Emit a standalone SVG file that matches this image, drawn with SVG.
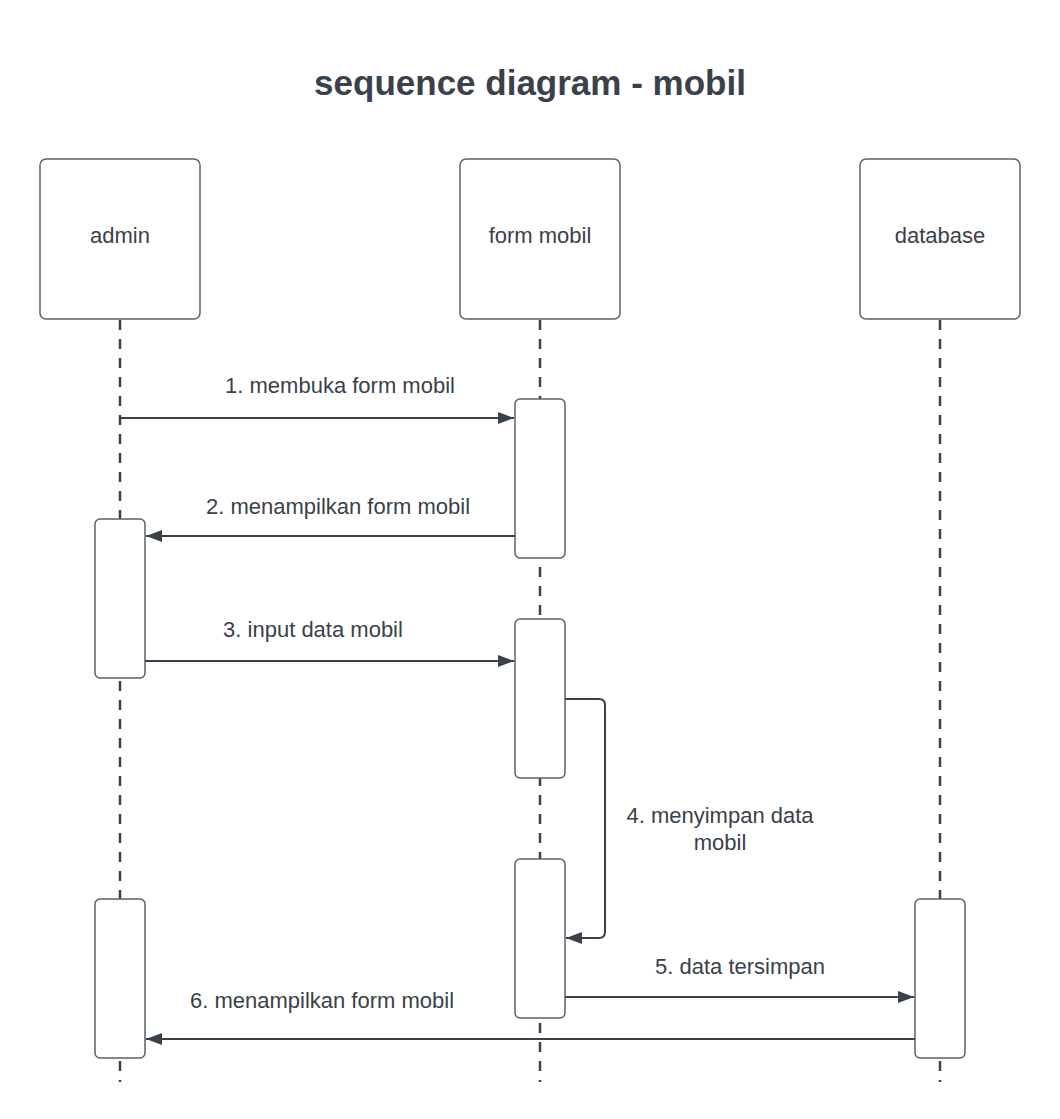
<svg xmlns="http://www.w3.org/2000/svg" width="1060" height="1119" viewBox="0 0 1060 1119">
<style>
.bg{fill:#ffffff}
.actor{fill:#ffffff;stroke:#5a626c;stroke-width:1.5}
.act{fill:#ffffff;stroke:#5a626c;stroke-width:1.5}
.life{stroke:#3a414a;stroke-width:2.5;stroke-dasharray:10 9;fill:none}
.msg{stroke:#3a414a;stroke-width:2;fill:none}
.t{font-family:"Liberation Sans",Arial,sans-serif;font-size:22px;fill:#3a414a;text-anchor:middle}
.title{font-family:"Liberation Sans",Arial,sans-serif;font-size:35px;font-weight:bold;fill:#3a414a;text-anchor:middle}
</style>
<defs>
<marker id="ah" viewBox="0 0 16 12" refX="16" refY="6" markerWidth="16" markerHeight="12" markerUnits="userSpaceOnUse" orient="auto">
<path d="M0,0 L16,6 L0,12 Z" fill="#3a414a"/>
</marker>
</defs>
<rect class="bg" x="0" y="0" width="1060" height="1119"/>
<text class="title" x="530" y="95">sequence diagram - mobil</text>
<g id="lifelines">
<line class="life" x1="120" y1="320" x2="120" y2="1082"/>
<line class="life" x1="540" y1="320" x2="540" y2="1082"/>
<line class="life" x1="940" y1="320" x2="940" y2="1082"/>
</g>
<g id="actor-admin"><rect class="actor" x="40" y="159" width="160" height="160" rx="6"/><text class="t" x="120" y="243">admin</text></g>
<g id="actor-form"><rect class="actor" x="460" y="159" width="160" height="160" rx="6"/><text class="t" x="540" y="243">form mobil</text></g>
<g id="actor-db"><rect class="actor" x="860" y="159" width="160" height="160" rx="6"/><text class="t" x="940" y="243">database</text></g>
<g id="act-form-1"><rect class="act" x="515" y="399" width="50" height="159" rx="5"/></g>
<g id="act-admin-1"><rect class="act" x="95" y="519" width="50" height="159" rx="5"/></g>
<g id="act-form-2"><rect class="act" x="515" y="619" width="50" height="159" rx="5"/></g>
<g id="act-form-3"><rect class="act" x="515" y="859" width="50" height="159" rx="5"/></g>
<g id="act-admin-2"><rect class="act" x="95" y="899" width="50" height="159" rx="5"/></g>
<g id="act-db-1"><rect class="act" x="915" y="899" width="50" height="159" rx="5"/></g>
<g id="connectors">
<line class="msg" x1="120" y1="418" x2="514" y2="418" marker-end="url(#ah)"/>
<text class="t" x="340" y="393">1. membuka form mobil</text>
<line class="msg" x1="515" y1="536" x2="146" y2="536" marker-end="url(#ah)"/>
<text class="t" x="338" y="514">2. menampilkan form mobil</text>
<line class="msg" x1="145" y1="661" x2="514" y2="661" marker-end="url(#ah)"/>
<text class="t" x="313" y="637">3. input data mobil</text>
<path class="msg" d="M565,699 H599 Q605,699 605,705 V932 Q605,938 599,938 H566" marker-end="url(#ah)"/>
<text class="t" x="720" y="823">4. menyimpan data</text>
<text class="t" x="720" y="850">mobil</text>
<line class="msg" x1="565" y1="997" x2="914" y2="997" marker-end="url(#ah)"/>
<text class="t" x="740" y="974">5. data tersimpan</text>
<line class="msg" x1="915" y1="1039" x2="146" y2="1039" marker-end="url(#ah)"/>
<text class="t" x="322" y="1008">6. menampilkan form mobil</text>
</g>
</svg>
